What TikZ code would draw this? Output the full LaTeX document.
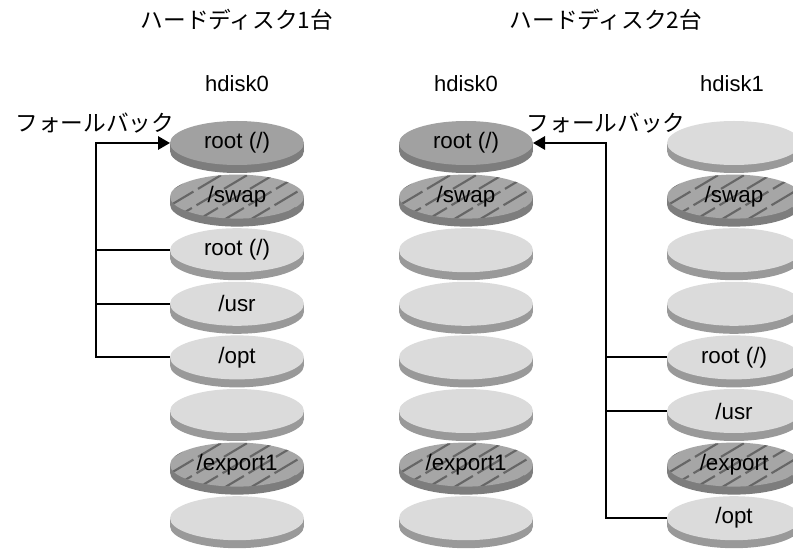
\documentclass[tikz,border=0pt]{standalone}
\usepackage{fontspec}
\setmainfont{Liberation Sans}
\newfontfamily\jpfont{Noto Sans CJK JP}
\usetikzlibrary{shapes.geometric,arrows.meta,calc}
\definecolor{faceDark}{gray}{0.63}
\definecolor{sideDark}{gray}{0.49}
\definecolor{faceLight}{gray}{0.86}
\definecolor{sideLight}{gray}{0.60}
\definecolor{faceHatch}{gray}{0.65}
\definecolor{sideHatch}{gray}{0.49}
\definecolor{hatchLine}{gray}{0.40}
\tikzset{
  diskface/.style={shape=ellipse, inner sep=0pt, outer sep=0pt,
    minimum width=100.5pt, minimum height=33pt, font=\fontsize{16.8pt}{18pt}\selectfont},
  hatchstroke/.style={draw=hatchLine, line width=1.6pt, dash pattern=on 20pt off 4pt},
  conn/.style={draw=black, line width=1.5pt},
  fb/.style={-{Triangle[length=9pt,width=10pt]}},
  jptext/.style={font=\jpfont\fontsize{17pt}{20pt}\selectfont},
  hdlabel/.style={font=\fontsize{16.5pt}{18pt}\selectfont}
}
% #1 name, #2 x, #3 y, #4 kind, #5 label
\newcommand\drawdisk[5]{%
  \fill[side#4] (#2,#3+8) ellipse [x radius=67, y radius=22];
  \fill[side#4] (#2-67,#3) rectangle (#2+67,#3+8);
  \fill[face#4] (#2,#3) ellipse [x radius=67, y radius=22];
  \node[diskface] (#1) at (#2,#3) {#5};
}
\newcommand\hatchdisk[5]{%
  \fill[sideHatch] (#2,#3+8) ellipse [x radius=67, y radius=22];
  \fill[sideHatch] (#2-67,#3) rectangle (#2+67,#3+8);
  \fill[faceHatch] (#2,#3) ellipse [x radius=67, y radius=22];
  \begin{scope}
    \clip (#2,#3) ellipse [x radius=67, y radius=22];
    \foreach \k in {-5,...,5} {
      \draw[hatchstroke] (#2+\k*26-42,#3+25) -- (#2+\k*26+42,#3-25);
    }
  \end{scope}
  \node[diskface] (#1) at (#2,#3) {#5};
}
\begin{document}
\begin{tikzpicture}[x=0.75pt,y=-0.75pt]
\fill[white] (0,0) rectangle (793,552);
\useasboundingbox (0,0) rectangle (793,552);

% titles
\node[jptext] (t1) at (237,20) {ハードディスク1台};
\node[jptext] (t2) at (606,20) {ハードディスク2台};
\node[hdlabel] (h1) at (237,84) {hdisk0};
\node[hdlabel] (h2) at (466,84) {hdisk0};
\node[hdlabel] (h3) at (732,84) {hdisk1};

% left stack (x=237)
\drawdisk{L0}{237}{143}{Dark}{root (/)}
\hatchdisk{L1}{237}{196.6}{Hatch}{/swap}
\drawdisk{L2}{237}{250.2}{Light}{root (/)}
\drawdisk{L3}{237}{303.8}{Light}{/usr}
\drawdisk{L4}{237}{357.4}{Light}{/opt}
\drawdisk{L5}{237}{411}{Light}{}
\hatchdisk{L6}{237}{464.6}{Hatch}{/export1}
\drawdisk{L7}{237}{518.2}{Light}{}

% middle stack (x=466)
\drawdisk{M0}{466}{143}{Dark}{root (/)}
\hatchdisk{M1}{466}{196.6}{Hatch}{/swap}
\drawdisk{M2}{466}{250.2}{Light}{}
\drawdisk{M3}{466}{303.8}{Light}{}
\drawdisk{M4}{466}{357.4}{Light}{}
\drawdisk{M5}{466}{411}{Light}{}
\hatchdisk{M6}{466}{464.6}{Hatch}{/export1}
\drawdisk{M7}{466}{518.2}{Light}{}

% right stack (x=734)
\drawdisk{R0}{734}{143}{Light}{}
\hatchdisk{R1}{734}{196.6}{Hatch}{/swap}
\drawdisk{R2}{734}{250.2}{Light}{}
\drawdisk{R3}{734}{303.8}{Light}{}
\drawdisk{R4}{734}{357.4}{Light}{root (/)}
\drawdisk{R5}{734}{411}{Light}{/usr}
\hatchdisk{R6}{734}{464.6}{Hatch}{/export}
\drawdisk{R7}{734}{518.2}{Light}{/opt}

% fallback labels
\node[jptext] (fb1) at (95,123) {フォールバック};
\node[jptext] (fb2) at (606,123) {フォールバック};

% connectors, left
\coordinate (lbus) at (96,0);
\draw[conn,fb] (L4.west) -- (L4.west -| lbus) -- (L0.west -| lbus) -- (L0.west);
\draw[conn] (L2.west) -- (L2.west -| lbus);
\draw[conn] (L3.west) -- (L3.west -| lbus);

% connectors, right
\coordinate (rbus) at (606,0);
\draw[conn,fb] (R7.west) -- (R7.west -| rbus) -- (M0.east -| rbus) -- (M0.east);
\draw[conn] (R4.west) -- (R4.west -| rbus);
\draw[conn] (R5.west) -- (R5.west -| rbus);
\end{tikzpicture}
\end{document}
